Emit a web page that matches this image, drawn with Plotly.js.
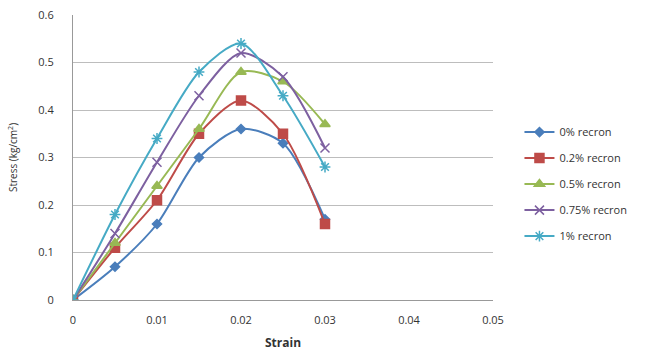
<!DOCTYPE html>
<html>
<head>
<meta charset="utf-8">
<script src="https://cdn.plot.ly/plotly-3.0.1.min.js"></script>
<style>html,body{margin:0;padding:0;background:#fff;}#chart{width:669px;height:352px;}</style>
</head>
<body>
<div id="chart"></div>
<script>
const strain = [0, 0.005, 0.01, 0.015, 0.02, 0.025, 0.03];
const seriesNames = ["0% recron", "0.2% recron", "0.5% recron", "0.75% recron", "1% recron"];
const stress0 = [0, 0.07, 0.16, 0.30, 0.36, 0.33, 0.17];
const stress02 = [0, 0.11, 0.21, 0.35, 0.42, 0.35, 0.16];
const stress05 = [0, 0.12, 0.24, 0.36, 0.48, 0.46, 0.37];
const stress075 = [0, 0.14, 0.29, 0.43, 0.52, 0.47, 0.32];
const stress1 = [0, 0.18, 0.34, 0.48, 0.54, 0.43, 0.28];
const xTicks = [0, 0.01, 0.02, 0.03, 0.04, 0.05];
const yTicks = [0, 0.1, 0.2, 0.3, 0.4, 0.5, 0.6];

const allStress = [stress0, stress02, stress05, stress075, stress1];
const colors = ["#4A7EBB", "#BE4B48", "#98B954", "#7D60A0", "#46AAC5"];
const symbols = ["diamond", "square", "triangle-up", "x-thin-open", "asterisk-open"];
const sizes = [7, 9, 9, 9, 9];

const traces = allStress.map((ys, i) => ({
  x: strain, y: ys, name: seriesNames[i], type: "scatter", mode: "lines+markers",
  legendgroup: "g" + i,
  line: {color: colors[i], width: 2, shape: "spline", smoothing: 0.8},
  marker: {symbol: symbols[i], size: sizes[i], color: colors[i], line: {color: colors[i], width: 1.5}}
}));

const layout = {
  width: 669, height: 352,
  margin: {l: 73, r: 176, t: 15, b: 52},
  paper_bgcolor: "#fff", plot_bgcolor: "#fff",
  font: {family: "Open Sans, DejaVu Sans, sans-serif", size: 11, color: "#333"},
  xaxis: {
    range: [0, 0.05], tickvals: xTicks, ticktext: xTicks.map(String),
    showgrid: false, zeroline: false, showline: true, linecolor: "#999", linewidth: 1,
    ticks: "", ticklabelstandoff: 10,
    tickfont: {size: 11, color: "#333"},
    title: {text: "<b>Strain</b>", font: {size: 12, color: "#333"}, standoff: 12}
  },
  yaxis: {
    range: [0, 0.6], tickvals: yTicks, ticktext: yTicks.map(String),
    showgrid: true, gridcolor: "#BDBDBD", gridwidth: 1, zeroline: false,
    showline: true, linecolor: "#999", linewidth: 1,
    ticks: "", ticklabelstandoff: 16,
    tickfont: {size: 11, color: "#333"},
    title: {text: "Stress (kg/cm<sup>2</sup>)", font: {size: 10, color: "#333"}, standoff: 18}
  },
  showlegend: true,
  legend: {x: 1.063, y: 0.64, xanchor: "left", yanchor: "top", tracegroupgap: 7,
    font: {size: 11, color: "#333"}, bgcolor: "rgba(0,0,0,0)", itemwidth: 30}
};

Plotly.newPlot("chart", traces, layout, {displayModeBar: false, staticPlot: true});
</script>
</body>
</html>
